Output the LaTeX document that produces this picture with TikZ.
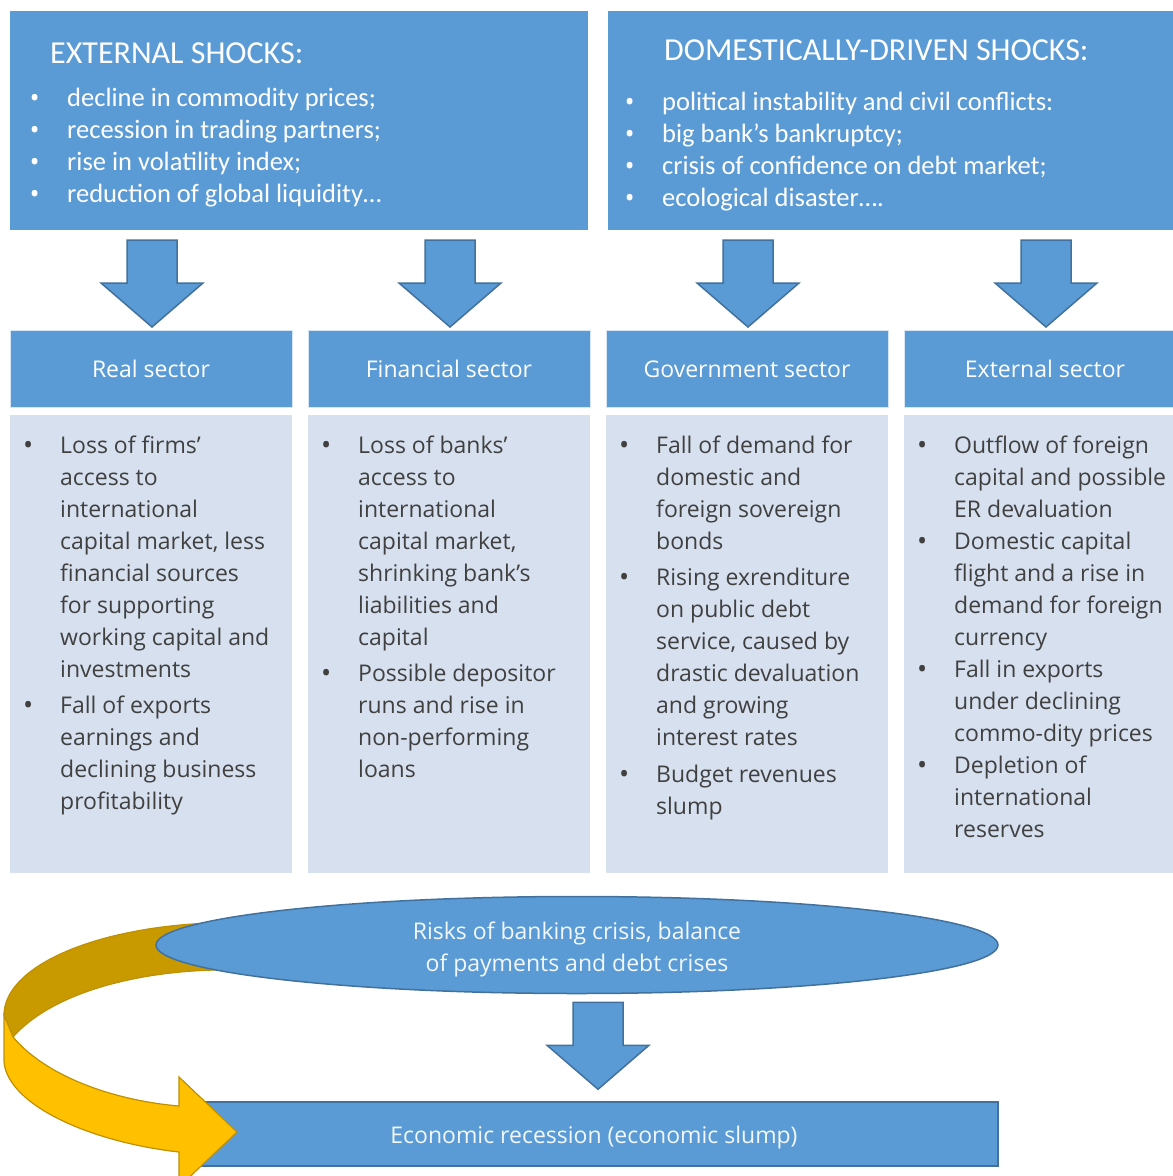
\documentclass[tikz,border=0pt]{standalone}
\usepackage{fontspec}
\setmainfont{Open Sans}
\newfontfamily\shockfont{Carlito}
\usetikzlibrary{positioning,shapes.geometric,calc}

\definecolor{boxblue}{HTML}{5B9BD5}
\definecolor{edgeblue}{HTML}{41719C}
\definecolor{paleblue}{HTML}{D6E0EF}
\definecolor{bodytext}{HTML}{404040}
\definecolor{goldlight}{HTML}{FFC000}
\definecolor{golddark}{HTML}{C99A00}
\definecolor{goldedge}{HTML}{BF9000}

\newcommand{\dotmark}{\normalfont\raisebox{-1.5pt}{\fontsize{27}{27}\selectfont\textbullet}}
\newcommand{\bl}{\makebox[37pt][l]{\dotmark}}
\newcommand{\tbl}{\makebox[37.5pt][l]{\dotmark}}
\newcommand{\ind}{\hspace*{37pt}}

\begin{document}
\begin{tikzpicture}
[
	x=1pt, y=-1pt,
	shockbox/.style={fill=boxblue, minimum width=578pt, minimum height=219pt, inner sep=0},
	shocktitle/.style={anchor=base west, inner sep=0, text=white, font=\shockfont\fontsize{32}{38}\selectfont},
	shockitem/.style={anchor=base west, inner sep=0, text=white, font=\shockfont\fontsize{26.5}{32}\selectfont},
	sectorhead/.style={fill=boxblue, draw=white!75!boxblue, line width=1pt, outer sep=0, minimum width=282pt, minimum height=77pt, inner sep=0, text height=17pt, text depth=0pt, text=white, font=\fontsize{23}{28}\selectfont},
	sectorbody/.style={fill=paleblue, outer sep=0, minimum width=282pt, minimum height=458pt, inner sep=0},
	bodylist/.style={anchor=north west, align=left, inner sep=0, text=bodytext, font=\fontsize{23}{32}\selectfont},
	arrowbox/.style={fill=boxblue, draw=edgeblue, line width=1.5pt, line join=miter},
	pics/dnarrow/.style={code={\draw[arrowbox] (-25,0) -- (25,0) -- (25,43) -- (51,43) -- (0,87) -- (-51,43) -- (-25,43) -- cycle;}},
	risk/.style={ellipse, fill=boxblue, draw=edgeblue, line width=1.5pt, minimum width=842pt, minimum height=97pt, inner sep=0},
	risktext/.style={align=center, inner sep=0, text=white!92!boxblue, font=\fontsize{23}{32}\selectfont},
	recession/.style={fill=boxblue, draw=edgeblue, line width=1.5pt, minimum width=808pt, minimum height=64pt, inner sep=0, text=white!92!boxblue, font=\fontsize{23}{28}\selectfont},
	loopband/.style={draw=goldedge, line width=1.2pt, line join=miter}
]
	\useasboundingbox (0,0) rectangle (1173,1176);
	\clip (0,0) rectangle (1173,1176);

	% shocks
	\node[shockbox, anchor=north west] (ext) at (10,11) {};
	\node[shockbox, right=19pt of ext] (dom) {};
	\node[shocktitle] (exttitle) at (50,63) {EXTERNAL SHOCKS:};
	\node[shocktitle] (domtitle) at (664,60) {DOMESTICALLY-DRIVEN SHOCKS:};
	\foreach \txt [count=\i] in {decline in commodity prices;, recession in trading partners;, rise in volatility index;, reduction of global liquidity\ldots}
		\node[shockitem] (ext\i) at (29.5,{74+32*\i}) {\tbl\txt};
	\foreach \txt [count=\i] in {political instability and civil conflicts:, big bank’s bankruptcy;, crisis of confidence on debt market;, ecological disaster\ldots.}
		\node[shockitem] (dom\i) at (624.5,{78+32*\i}) {\tbl\txt};

	% sectors
	\node[sectorhead, anchor=north west] (real) at (10,330) {Real sector};
	\node[sectorhead, right=16pt of real] (fin) {Financial sector};
	\node[sectorhead, right=16pt of fin] (gov) {Government sector};
	\node[sectorhead, right=16pt of gov] (extsec) {External sector};

	\node[sectorbody, below=8pt of real] (realbody) {};
	\node[sectorbody, below=8pt of fin] (finbody) {};
	\node[sectorbody, below=8pt of gov] (govbody) {};
	\node[sectorbody, below=8pt of extsec] (extbody) {};

	\node[bodylist] (reallist) at ([xshift=13pt,yshift=-15.6pt]realbody.north west)
		{\strut\bl Loss of firms’\\ \ind access to\\ \ind international\\ \ind capital market, less\\ \ind financial sources\\ \ind for supporting\\ \ind working capital and\\ \ind investments\\[4pt]
		\bl Fall of exports\\ \ind earnings and\\ \ind declining business\\ \ind profitability};
	\node[bodylist] (finlist) at ([xshift=13pt,yshift=-15.6pt]finbody.north west)
		{\strut\bl Loss of banks’\\ \ind access to\\ \ind international\\ \ind capital market,\\ \ind shrinking bank's\\ \ind liabilities and\\ \ind capital\\[4pt]
		\bl Possible depositor\\ \ind runs and rise in\\ \ind non-performing\\ \ind loans};
	\node[bodylist] (govlist) at ([xshift=13pt,yshift=-15.6pt]govbody.north west)
		{\strut\bl Fall of demand for\\ \ind domestic and\\ \ind foreign sovereign\\ \ind bonds\\[4pt]
		\bl Rising exrenditure\\ \ind on public debt\\ \ind service, caused by\\ \ind drastic devaluation\\ \ind and growing\\ \ind interest rates\\[5pt]
		\bl Budget revenues\\ \ind slump};
	\node[bodylist] (extlist) at ([xshift=13pt,yshift=-15.6pt]extbody.north west)
		{\strut\bl Outflow of foreign\\ \ind capital and possible\\ \ind ER devaluation\\
		\bl Domestic capital\\ \ind flight and a rise in\\ \ind demand for foreign\\ \ind currency\\
		\bl Fall in exports\\ \ind under declining\\ \ind commo-dity prices\\
		\bl Depletion of\\ \ind international\\ \ind reserves};

	% shocks feed the sectors
	\foreach \s in {real, fin, gov, extsec}
		\pic (arr-\s) at ([xshift=1pt,yshift=90pt]\s.north) {dnarrow};

	% loop back (part behind the ellipse)
	\draw[loopband, fill=golddark] (210,923) .. controls (90,928) and (4,968) .. (4,1015)
		-- (13,1037) .. controls (50,995) and (130,972) .. (215,970) -- cycle;

	\node[risk] (risk) at (577,945) {};
	\node[risktext] (risklabel) at ([yshift=-4pt]risk.center) {Risks of banking crisis, balance\\ of payments and debt crises};
	\node[recession] (rec) at (594,1134) {\raisebox{-4pt}[\height][\depth]{Economic recession (economic slump)}};
	\pic (arr-rec) at ([xshift=4pt,yshift=99pt]rec.north) {dnarrow};

	% loop back (front part with head)
	\draw[loopband, fill=goldlight] (4,1015) -- (13,1037) .. controls (45,1075) and (110,1100) .. (179,1106)
		-- (179,1077) -- (237,1132) -- (179,1187) -- (179,1152)
		.. controls (90,1142) and (8,1105) .. (4,1062) -- cycle;
\end{tikzpicture}
\end{document}
